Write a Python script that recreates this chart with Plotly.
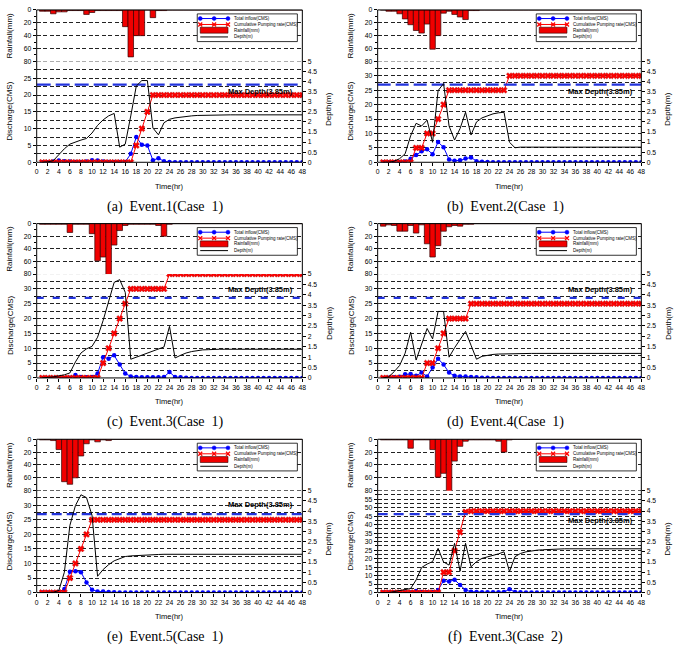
import plotly.graph_objects as go

# ---------------- data (t = 1..48 h) ----------------
hours = list(range(1, 49))
time_ticks = list(range(0, 49, 2))

rain1 = [2, 2, 6, 3, 3, 1, 1, 1, 7, 4, 1, 1, 1, 1, 1, 26, 73, 40, 40, 0, 12, 1, 1, 0,
         0, 0, 0, 0, 0, 0, 0, 0, 0, 0, 0, 0, 0, 0, 0, 0, 0, 0, 0, 0, 0, 0, 0, 0]
inflow1 = [0, 0, 0.2, 0.5, 0.3, 0.2, 0.1, 0.1, 0.2, 0.6, 0.5, 0.2, 0.1, 0.1, 0.1, 0.1, 2.5, 7.5, 5.2, 5.0, 0.6, 1.2, 0.3, 0.1,
           0, 0, 0, 0, 0, 0, 0, 0, 0, 0, 0, 0, 0, 0, 0, 0, 0, 0, 0, 0, 0, 0, 0, 0]
pump1 = [0, 0, 0, 0, 0, 0, 0, 0, 0, 0, 0, 0, 0, 0, 0, 0, 0, 5, 10, 15, 20, 20, 20, 20,
         20, 20, 20, 20, 20, 20, 20, 20, 20, 20, 20, 20, 20, 20, 20, 20, 20, 20, 20, 20, 20, 20, 20, 20]
depth1 = [0, 0.02, 0.08, 0.4, 0.67, 0.9, 1.02, 1.1, 1.18, 1.45, 1.83, 2.1, 2.3, 2.42, 0.75, 0.9, 2.3, 3.78, 4.05, 4.05, 1.7, 1.36, 1.96, 2.13,
          2.2, 2.24, 2.27, 2.3, 2.32, 2.33, 2.34, 2.35, 2.35, 2.35, 2.35, 2.35, 2.35, 2.35, 2.35, 2.35, 2.35, 2.35, 2.35, 2.35, 2.35, 2.35, 2.35, 2.35]

rain2 = [0, 2, 2, 6, 14, 23, 32, 36, 22, 61, 40, 5, 2, 7, 11, 15, 1, 1, 0, 0, 0, 0, 0, 0,
         0, 0, 0, 0, 0, 0, 0, 0, 0, 0, 0, 0, 0, 0, 0, 0, 0, 0, 0, 0, 0, 0, 0, 0]
inflow2 = [0, 0, 0, 0, 0.3, 1.2, 2.5, 3.8, 4.5, 2.8, 7.0, 5.2, 1.0, 0.5, 0.7, 1.3, 1.7, 0.4, 0.2, 0.1, 0, 0, 0, 0,
           0, 0, 0, 0, 0, 0, 0, 0, 0, 0, 0, 0, 0, 0, 0, 0, 0, 0, 0, 0, 0, 0, 0, 0]
pump2 = [0, 0, 0, 0, 0, 0, 5, 5, 10, 10, 15, 20, 25, 25, 25, 25, 25, 25, 25, 25, 25, 25, 25, 30,
         30, 30, 30, 30, 30, 30, 30, 30, 30, 30, 30, 30, 30, 30, 30, 30, 30, 30, 30, 30, 30, 30, 30, 30]
depth2 = [0, 0, 0.05, 0.18, 0.42, 1.31, 1.93, 1.8, 2.09, 0.99, 3.55, 3.9, 1.8, 1.1, 1.67, 2.48, 1.35, 2.0, 2.2, 2.32, 2.4, 2.45, 2.48, 0.99,
          0.72, 0.75, 0.75, 0.75, 0.75, 0.75, 0.75, 0.75, 0.75, 0.75, 0.75, 0.75, 0.75, 0.75, 0.75, 0.75, 0.75, 0.75, 0.75, 0.75, 0.75, 0.75, 0.75, 0.75]

rain3 = [1, 1, 1, 1, 1, 14, 1, 1, 1, 16, 59, 53, 92, 34, 11, 3, 1, 1, 1, 1, 1, 3, 20, 1,
         0, 0, 0, 0, 0, 0, 0, 0, 0, 0, 0, 0, 0, 0, 0, 0, 0, 0, 0, 0, 0, 0, 0, 0]
inflow3 = [0, 0, 0, 0, 0, 0.1, 1.0, 0.3, 0.2, 0.3, 1.5, 7.0, 6.5, 7.6, 4.5, 1.5, 0.5, 0.3, 0.2, 0.2, 0.2, 0.2, 0.3, 2.0,
           0.3, 0.2, 0.1, 0, 0, 0, 0, 0, 0, 0, 0, 0, 0, 0, 0, 0, 0, 0, 0, 0, 0, 0, 0, 0]
pump3 = [0, 0, 0, 0, 0, 0, 0, 0, 0, 0, 0, 5, 10, 15, 20, 25, 30, 30, 30, 30, 30, 30, 30, 35,
         35, 35, 35, 35, 35, 35, 35, 35, 35, 35, 35, 35, 35, 35, 35, 35, 35, 35, 35, 35, 35, 35, 35, 35]
depth3 = [0, 0.02, 0.05, 0.1, 0.15, 0.24, 0.77, 1.2, 1.4, 1.52, 1.96, 2.76, 3.69, 4.6, 4.73, 4.12, 0.9, 1.0, 1.1, 1.2, 1.3, 1.4, 1.49, 2.48,
          0.96, 1.09, 1.2, 1.27, 1.32, 1.35, 1.36, 1.38, 1.38, 1.38, 1.38, 1.38, 1.38, 1.38, 1.38, 1.38, 1.38, 1.38, 1.38, 1.38, 1.38, 1.38, 1.38, 1.38]

rain4 = [4, 2, 3, 12, 12, 3, 15, 2, 32, 53, 35, 12, 5, 3, 4, 1, 1, 0, 0, 0, 0, 0, 0, 0,
         0, 0, 0, 0, 0, 0, 0, 0, 0, 0, 0, 0, 0, 0, 0, 0, 0, 0, 0, 0, 0, 0, 0, 0]
inflow4 = [0, 0.1, 0.2, 0.4, 1.2, 1.3, 0.7, 1.8, 0.5, 3.5, 6.5, 4.5, 1.8, 0.7, 0.5, 0.5, 0.3, 0.2, 0.1, 0.1, 0, 0, 0, 0,
           0, 0, 0, 0, 0, 0, 0, 0, 0, 0, 0, 0, 0, 0, 0, 0, 0, 0, 0, 0, 0, 0, 0, 0]
pump4 = [0, 0, 0, 0, 0, 0, 0, 0, 5, 5, 10, 15, 20, 20, 20, 20, 25, 25, 25, 25, 25, 25, 25, 25,
         25, 25, 25, 25, 25, 25, 25, 25, 25, 25, 25, 25, 25, 25, 25, 25, 25, 25, 25, 25, 25, 25, 25, 25]
depth4 = [0, 0.05, 0.3, 0.6, 1.19, 2.2, 0.86, 1.6, 2.38, 1.88, 3.2, 3.2, 1.0, 1.45, 1.85, 2.24, 1.57, 0.9, 1.04, 1.1, 1.13, 1.15, 1.16, 1.17,
          1.18, 1.18, 1.18, 1.18, 1.18, 1.18, 1.18, 1.18, 1.18, 1.18, 1.18, 1.18, 1.18, 1.18, 1.18, 1.18, 1.18, 1.18, 1.18, 1.18, 1.18, 1.18, 1.18, 1.18]

rain5 = [1, 1, 2, 16, 66, 70, 60, 26, 7, 1, 4, 1, 2, 0, 0, 0, 0, 0, 0, 0, 0, 0, 0, 0,
         0, 0, 0, 0, 0, 0, 0, 0, 0, 0, 0, 0, 0, 0, 0, 0, 0, 0, 0, 0, 0, 0, 0, 0]
inflow5 = [0, 0, 0, 0.2, 1.2, 7.2, 7.3, 7.0, 3.5, 1.0, 0.4, 0.4, 0.2, 0.1, 0, 0, 0, 0, 0, 0, 0, 0, 0, 0,
           0, 0, 0, 0, 0, 0, 0, 0, 0, 0, 0, 0, 0, 0, 0, 0, 0, 0, 0, 0, 0, 0, 0, 0]
pump5 = [0, 0, 0, 0, 0, 5, 10, 15, 20, 25, 25, 25, 25, 25, 25, 25, 25, 25, 25, 25, 25, 25, 25, 25,
         25, 25, 25, 25, 25, 25, 25, 25, 25, 25, 25, 25, 25, 25, 25, 25, 25, 25, 25, 25, 25, 25, 25, 25]
depth5 = [0, 0, 0.02, 0.1, 1.0, 3.3, 4.27, 4.8, 4.66, 3.79, 0.8, 1.13, 1.37, 1.56, 1.68, 1.77, 1.8, 1.82, 1.84, 1.85, 1.86, 1.87, 1.88, 1.88,
          1.88, 1.88, 1.88, 1.88, 1.88, 1.88, 1.88, 1.88, 1.88, 1.88, 1.88, 1.88, 1.88, 1.88, 1.88, 1.88, 1.88, 1.88, 1.88, 1.88, 1.88, 1.88, 1.88, 1.88]

rain6 = rain3
inflow6 = inflow3
pump6 = [0, 0, 0, 0, 0, 0, 0, 0, 0, 0, 0, 12, 12, 24.7, 35.5, 47.5, 48, 48, 48, 48, 48, 48, 48, 48,
         48, 48, 48, 48, 48, 48, 48, 48, 48, 48, 48, 48, 48, 48, 48, 48, 48, 48, 48, 48, 48, 48, 48, 48]
depth6 = [0, 0, 0.05, 0.1, 0.12, 0.2, 0.62, 1.23, 1.4, 1.52, 2.17, 1.5, 1.35, 2.42, 1.05, 2.42, 1.27, 1.52, 1.68, 1.75, 1.82, 1.9, 2.0, 1.03,
          1.76, 1.92, 2.0, 2.05, 2.08, 2.1, 2.12, 2.13, 2.15, 2.15, 2.15, 2.15, 2.15, 2.15, 2.15, 2.15, 2.15, 2.15, 2.15, 2.15, 2.15, 2.15, 2.15, 2.15]

max_depth = 3.85
rain_ticks = [0, 20, 40, 60, 80]
rain_minor = [10, 30, 50, 70]
depth_ticks = [0, 0.5, 1, 1.5, 2, 2.5, 3, 3.5, 4, 4.5, 5]
depth_labels = ["0", "0.5", "1", "1.5", "2", "2.5", "3", "3.5", "4", "4.5", "5"]

captions = ["(a)  Event.1(Case  1)", "(b)  Event.2(Case  1)", "(c)  Event.3(Case  1)",
            "(d)  Event.4(Case  1)", "(e)  Event.5(Case  1)", "(f)  Event.3(Case  2)"]
legend_names = ["Total inflow(CMS)", "Cumulative Pumping rate(CMS)", "Rainfall(mm)", "Depth(m)"]

# ---------------- layout geometry (pixels) ----------------
W, H = 681, 650
COLS = [(35, 303), (379, 645)]
ROWS = [(6, 58, 160), (222, 273, 378), (440, 492, 595)]
FONT = "Liberation Sans, Arial, sans-serif"
SERIF = "Liberation Serif, DejaVu Serif, serif"

panels = [
    dict(r=0, c=0, rain=rain1, inflow=inflow1, pump=pump1, depth=depth1, dmax=30, lbl=3.53, dash="14px,5px"),
    dict(r=0, c=1, rain=rain2, inflow=inflow2, pump=pump2, depth=depth2, dmax=35, lbl=3.53, dash="13px,5px"),
    dict(r=1, c=0, rain=rain3, inflow=inflow3, pump=pump3, depth=depth3, dmax=35, lbl=4.24, dash="7px,9px"),
    dict(r=1, c=1, rain=rain4, inflow=inflow4, pump=pump4, depth=depth4, dmax=35, lbl=4.24, dash="7px,9px"),
    dict(r=2, c=0, rain=rain5, inflow=inflow5, pump=pump5, depth=depth5, dmax=35, lbl=4.32, dash="10px,5px"),
    dict(r=2, c=1, rain=rain6, inflow=inflow6, pump=pump6, depth=depth6, dmax=60, lbl=3.53, dash="10px,6px"),
]


def fx(px):
    return px / W


def fy(py):
    return 1 - py / H


fig = go.Figure()
layout = dict(width=W, height=H, autosize=False, margin=dict(l=0, r=0, t=0, b=0),
              paper_bgcolor="white", plot_bgcolor="white", showlegend=False)
shapes = []
annotations = []
tickfont = dict(size=6.8, family=FONT, color="black")
GRID = dict(showgrid=True, gridcolor="#222222", gridwidth=1, griddash="4px,2.5px")

for i, p in enumerate(panels):
    xi, yr, yd, yz = i + 1, 3 * i + 1, 3 * i + 2, 3 * i + 3
    L, R = COLS[p["c"]]
    T, S, B = ROWS[p["r"]]
    dmax = p["dmax"]
    rain_bottom = 80 * (B - T) / (S - T)

    layout[f"xaxis{xi}"] = dict(domain=[fx(L), fx(R)], range=[0, 48], anchor=f"y{yd}",
                                tickmode="array", tickvals=time_ticks, ticks="outside", ticklen=3,
                                tickcolor="black", showgrid=False, zeroline=False, showline=False,
                                tickfont=tickfont)
    layout[f"yaxis{yr}"] = dict(domain=[fy(B), fy(T)], range=[rain_bottom, 0], anchor=f"x{xi}",
                                tickmode="array", tickvals=rain_ticks, ticks="outside", ticklen=3,
                                tickcolor="black", zeroline=False, showline=False, tickfont=tickfont,
                                minor=dict(tickmode="array", tickvals=rain_minor, ticks="outside",
                                           ticklen=2, tickcolor="black", showgrid=False),
                                **GRID)
    major = list(range(0, dmax, 5))
    minor = [v + 2.5 for v in major]
    layout[f"yaxis{yd}"] = dict(domain=[fy(B), fy(S)], range=[0, dmax], anchor=f"x{xi}",
                                tickmode="array", tickvals=major, ticks="outside", ticklen=3,
                                tickcolor="black", zeroline=False, showline=False, tickfont=tickfont,
                                minor=dict(tickmode="array", tickvals=minor, ticks="outside", ticklen=2,
                                           tickcolor="black", showgrid=True, gridcolor="#222222",
                                           gridwidth=1, griddash="4px,2.5px"),
                                **GRID)
    layout[f"yaxis{yz}"] = dict(overlaying=f"y{yd}", side="right", anchor=f"x{xi}", range=[0, 5],
                                tickmode="array", tickvals=depth_ticks, ticktext=depth_labels,
                                ticks="outside", ticklen=3, tickcolor="black", showgrid=False,
                                zeroline=False, showline=False, tickfont=tickfont)

    fig.add_trace(go.Bar(x=hours, y=p["rain"], width=1, xaxis=f"x{xi}", yaxis=f"y{yr}",
                         marker=dict(color="#f00000", line=dict(color="#300000", width=0.7)),
                         name="Rainfall(mm)"))
    fig.add_trace(go.Scatter(x=hours, y=p["inflow"], xaxis=f"x{xi}", yaxis=f"y{yd}",
                             mode="lines+markers", line=dict(color="#0000ff", width=1),
                             marker=dict(symbol="circle", size=4.5, color="#0000ff"),
                             name="Total inflow(CMS)"))
    fig.add_trace(go.Scatter(x=hours, y=p["pump"], xaxis=f"x{xi}", yaxis=f"y{yd}",
                             mode="lines+markers", line=dict(color="#ff0000", width=1),
                             marker=dict(symbol="x", size=5.5, color="#ff0000",
                                         line=dict(color="#b00000", width=0.4)),
                             name="Cumulative Pumping rate(CMS)"))
    fig.add_trace(go.Scatter(x=[0, 48], y=[max_depth, max_depth], xaxis=f"x{xi}", yaxis=f"y{yz}",
                             mode="lines", line=dict(color="#2233dd", width=2.2, dash=p["dash"]),
                             name="Max Depth"))
    fig.add_trace(go.Scatter(x=hours, y=p["depth"], xaxis=f"x{xi}", yaxis=f"y{yz}",
                             mode="lines", line=dict(color="black", width=1), name="Depth(m)"))

    # frame
    shapes.append(dict(type="rect", xref="paper", yref="paper", x0=fx(L), x1=fx(R), y0=fy(B), y1=fy(T),
                       line=dict(color="black", width=1), fillcolor="rgba(0,0,0,0)", layer="above"))

    # legend box
    bx0, by0 = R - 106, T + 4
    bx1, by1 = bx0 + 101, by0 + 28
    shapes.append(dict(type="rect", xref="paper", yref="paper", x0=fx(bx0), x1=fx(bx1), y0=fy(by1), y1=fy(by0),
                       line=dict(color="black", width=0.8), fillcolor="white", layer="above"))
    rows_y = [by0 + 4.7, by0 + 10.7, by0 + 16.5, by0 + 23.3]
    sx0, sx1 = bx0 + 3, bx0 + 31
    shapes.append(dict(type="line", xref="paper", yref="paper", x0=fx(sx0), x1=fx(sx1), y0=fy(rows_y[0]), y1=fy(rows_y[0]),
                       line=dict(color="#0000ff", width=1), layer="above"))
    for cx in (sx0, (sx0 + sx1) / 2, sx1):
        shapes.append(dict(type="circle", xref="paper", yref="paper", x0=fx(cx - 2), x1=fx(cx + 2),
                           y0=fy(rows_y[0] + 2), y1=fy(rows_y[0] - 2), fillcolor="#0000ff",
                           line=dict(color="#0000ff", width=0.5), layer="above"))
    shapes.append(dict(type="line", xref="paper", yref="paper", x0=fx(sx0), x1=fx(sx1), y0=fy(rows_y[1]), y1=fy(rows_y[1]),
                       line=dict(color="#ff0000", width=1), layer="above"))
    for cx in (sx0, (sx0 + sx1) / 2, sx1):
        for d in (1, -1):
            shapes.append(dict(type="line", xref="paper", yref="paper", x0=fx(cx - 2), x1=fx(cx + 2),
                               y0=fy(rows_y[1] - 2 * d), y1=fy(rows_y[1] + 2 * d),
                               line=dict(color="#ff0000", width=1.3), layer="above"))
    shapes.append(dict(type="rect", xref="paper", yref="paper", x0=fx(sx0), x1=fx(sx1),
                       y0=fy(rows_y[2] + 3), y1=fy(rows_y[2] - 3), fillcolor="#f00000",
                       line=dict(color="#300000", width=0.6), layer="above"))
    shapes.append(dict(type="line", xref="paper", yref="paper", x0=fx(sx0), x1=fx(sx1), y0=fy(rows_y[3]), y1=fy(rows_y[3]),
                       line=dict(color="black", width=1), layer="above"))
    for k, name in enumerate(legend_names):
        annotations.append(dict(text=name, xref="paper", yref="paper", x=fx(bx0 + 35), y=fy(rows_y[k]),
                                xanchor="left", yanchor="middle", showarrow=False,
                                font=dict(size=4.5, family=FONT, color="black")))

    annotations.append(dict(text="<b>Max Depth(3.85m)</b>", xref=f"x{xi}", yref=f"y{yz}", x=40.5, y=p["lbl"],
                            showarrow=False, xanchor="center", yanchor="middle",
                            font=dict(size=7.5, family=FONT, color="black")))

    tx_left = L - 27
    annotations.append(dict(text="Rainfall(mm)", xref="paper", yref="paper", x=fx(tx_left), y=fy((T + S) / 2),
                            textangle=-90, showarrow=False, xanchor="center", yanchor="middle",
                            font=dict(size=8, family=FONT, color="black")))
    annotations.append(dict(text="Discharge(CMS)", xref="paper", yref="paper", x=fx(tx_left), y=fy((S + B) / 2 - 1),
                            textangle=-90, showarrow=False, xanchor="center", yanchor="middle",
                            font=dict(size=8, family=FONT, color="black")))
    annotations.append(dict(text="Depth(m)", xref="paper", yref="paper", x=fx(R + 27), y=fy((S + B) / 2 - 3),
                            textangle=-90, showarrow=False, xanchor="center", yanchor="middle",
                            font=dict(size=8, family=FONT, color="black")))
    annotations.append(dict(text="Time(hr)", xref="paper", yref="paper", x=fx((L + R) / 2), y=fy(B + 24),
                            showarrow=False, xanchor="center", yanchor="middle",
                            font=dict(size=7.5, family=FONT, color="black")))
    annotations.append(dict(text=captions[i], xref="paper", yref="paper", x=fx((L + R) / 2 - 4), y=fy(B + 45),
                            showarrow=False, xanchor="center", yanchor="middle",
                            font=dict(size=14, family=SERIF, color="black")))

layout["shapes"] = shapes
layout["annotations"] = annotations
fig.update_layout(**layout)
fig.write_html("out.html")
